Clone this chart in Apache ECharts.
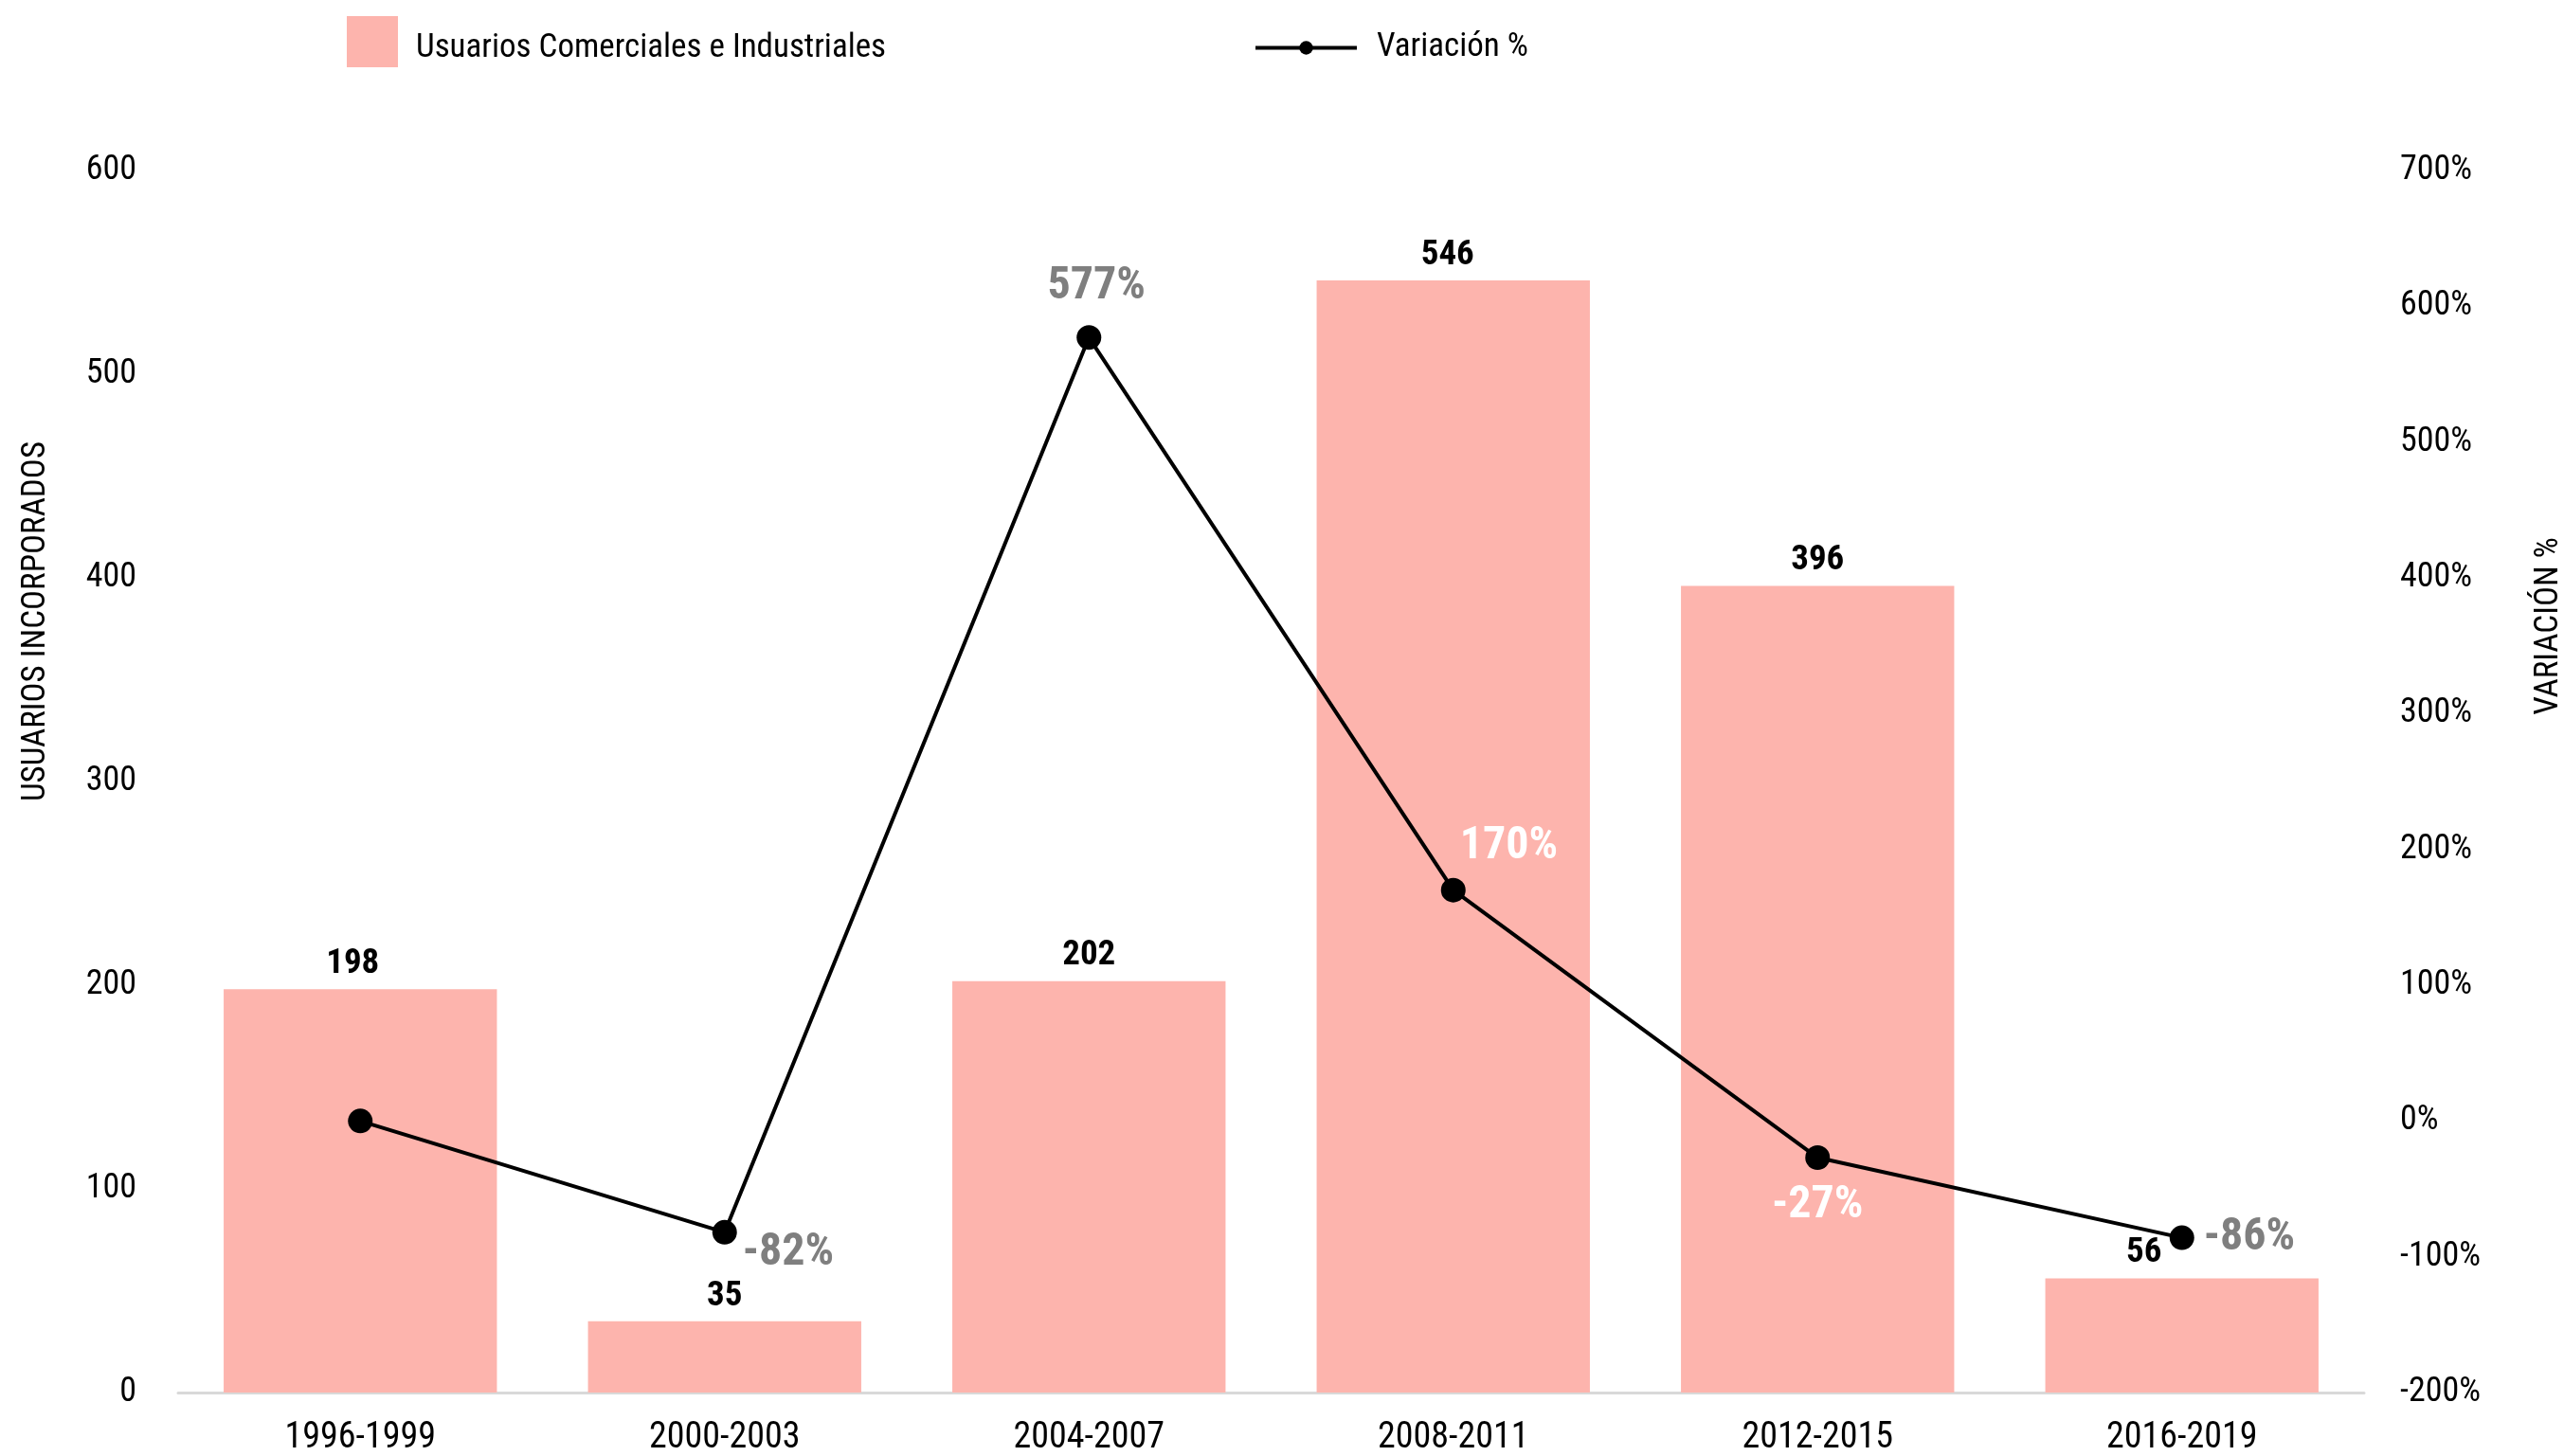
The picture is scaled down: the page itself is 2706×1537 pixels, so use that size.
<!DOCTYPE html>
<html>
<head>
<meta charset="utf-8">
<script src="https://cdn.jsdelivr.net/npm/echarts@6/dist/echarts.min.js"></script>
<style>
html,body{margin:0;padding:0;background:#fff;}
#chart{width:2706px;height:1537px;}
</style>
</head>
<body>
<div id="chart"></div>
<script>
const categories = ['1996-1999','2000-2003','2004-2007','2008-2011','2012-2015','2016-2019'];
const usuarios = [198, 35, 202, 546, 396, 56];
const variacion = [0, -82, 577, 170, -27, -86];
const leftTicks = [0, 600, 100];
const rightTicks = [-200, 700, 100];

const FONT = '"Liberation Sans Narrow", "Roboto Condensed", "Noto Sans", Roboto, sans-serif';
const GRAY = '#7f7f7f';

const lineLabelStyles = [
  {show: false},
  {show: true, position: 'right', distance: 6, offset: [0, 22], color: GRAY},
  {show: true, position: 'top', distance: 16, offset: [8, 0], color: GRAY},
  {show: true, position: 'right', distance: 0, offset: [-6, -46], color: '#ffffff'},
  {show: true, position: 'bottom', distance: 14, offset: [0, 0], color: '#ffffff'},
  {show: true, position: 'right', distance: 10, offset: [0, 0], color: GRAY}
];
const barLabelStyles = [
  {offset: [-8, 0]}, {offset: [0, 0]}, {offset: [0, 0]},
  {offset: [-6, 0]}, {offset: [0, 0]}, {offset: [-40, 0]}
];

const barData = usuarios.map((v, i) => ({value: v, label: barLabelStyles[i]}));
const lineData = variacion.map((v, i) => ({value: v, label: lineLabelStyles[i]}));

const chart = echarts.init(document.getElementById('chart'), null, {renderer: 'canvas'});
chart.setOption({
  backgroundColor: '#ffffff',
  animation: false,
  textStyle: {fontFamily: FONT},
  legend: [
    {
      data: [{name: 'Usuarios Comerciales e Industriales', icon: 'rect'}],
      left: 366, top: 17, padding: 0,
      itemWidth: 54, itemHeight: 54,
      formatter: '{t|{name}}',
      textStyle: {
        fontFamily: FONT, fontSize: 35, color: '#000',
        rich: {t: {fontFamily: FONT, fontSize: 35, color: '#000', padding: [14, 0, 0, 14]}}
      }
    },
    {
      data: ['Variación %'],
      left: 1323, top: 33, padding: 0,
      itemWidth: 107, itemHeight: 18,
      lineStyle: {width: 4},
      textStyle: {fontFamily: FONT, fontSize: 35, color: '#000', padding: [0, 0, 0, 16]}
    }
  ],
  grid: {left: 188, right: 211, top: 180, bottom: 61, containLabel: false},
  xAxis: {
    type: 'category',
    data: categories,
    axisLine: {show: true, lineStyle: {color: '#d9d9d9', width: 3}},
    axisTick: {show: false},
    axisLabel: {fontFamily: FONT, fontSize: 38, color: '#000', margin: 29}
  },
  yAxis: [
    {
      type: 'value', min: leftTicks[0], max: leftTicks[1], interval: leftTicks[2],
      position: 'left',
      splitLine: {show: false},
      axisLine: {show: false}, axisTick: {show: false},
      axisLabel: {fontFamily: FONT, fontSize: 36, color: '#000', margin: 44}
    },
    {
      type: 'value', min: rightTicks[0], max: rightTicks[1], interval: rightTicks[2],
      position: 'right',
      splitLine: {show: false},
      axisLine: {show: false}, axisTick: {show: false},
      axisLabel: {fontFamily: FONT, fontSize: 36, color: '#000', margin: 38, formatter: '{value}%'}
    }
  ],
  graphic: [
    {
      type: 'text', rotation: Math.PI / 2,
      x: 38, y: 656,
      style: {text: 'USUARIOS INCORPORADOS', font: '35px ' + FONT, fill: '#000', align: 'center', verticalAlign: 'middle'}
    },
    {
      type: 'text', rotation: Math.PI / 2,
      x: 2690, y: 661,
      style: {text: 'VARIACIÓN %', font: '35px ' + FONT, fill: '#000', align: 'center', verticalAlign: 'middle'}
    }
  ],
  series: [
    {
      name: 'Usuarios Comerciales e Industriales',
      type: 'bar',
      yAxisIndex: 0,
      data: barData,
      barCategoryGap: '25%',
      itemStyle: {color: '#fdb4ad'},
      label: {show: true, position: 'top', distance: 8, fontFamily: FONT, fontSize: 37, fontWeight: 'bold', color: '#000'}
    },
    {
      name: 'Variación %',
      type: 'line',
      yAxisIndex: 1,
      data: lineData,
      symbol: 'circle',
      symbolSize: 26,
      z: 5,
      lineStyle: {color: '#000', width: 4},
      itemStyle: {color: '#000'},
      label: {fontFamily: FONT, fontSize: 48, fontWeight: 'bold', formatter: '{c}%'}
    }
  ]
});
</script>
</body>
</html>
